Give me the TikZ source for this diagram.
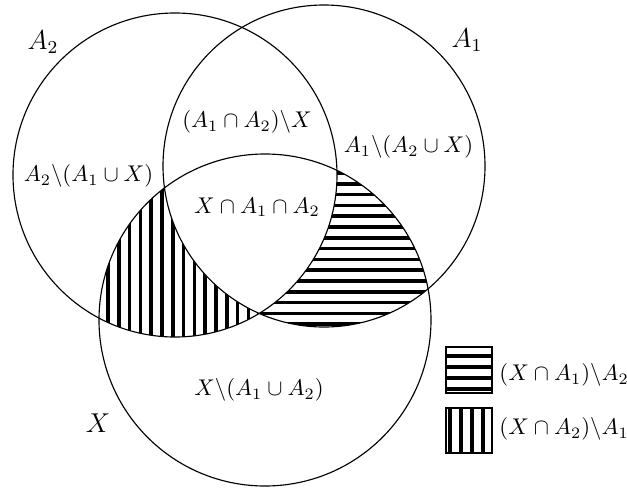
\documentclass[tikz,border=0pt]{standalone}
\begin{document}
\begin{tikzpicture}[x=0.44pt,y=-0.44pt,
  ring/.style={line width=0.5pt},
  hatch/.style={line width=1.6pt},
  lbl/.style={inner sep=0pt},
  keylbl/.style={inner sep=0pt,anchor=west,font=\fontsize{9.6}{12}\selectfont},
  biglbl/.style={inner sep=0pt,font=\large}]
\useasboundingbox (0,0) rectangle (627,488);
\coordinate (cA2) at (175,175);
\coordinate (cA1) at (324,166);
\coordinate (cX) at (265,320);
% (X cap A2) \ A1 : vertical hatching
\begin{scope}
  \clip (cX) circle[radius=166];
  \clip (cA2) circle[radius=162];
  \foreach \k in {-2,...,18} \draw[hatch] (97.2+10.8*\k,150) -- (97.2+10.8*\k,345);
  \fill[white] (cA1) circle[radius=161];
\end{scope}
% (X cap A1) \ A2 : horizontal hatching
\begin{scope}
  \clip (cX) circle[radius=166];
  \clip (cA1) circle[radius=161];
  \foreach \k in {-2,...,17} \draw[hatch] (240,173+10.8*\k) -- (445,173+10.8*\k);
  \fill[white] (cA2) circle[radius=162];
\end{scope}
% circles
\draw[ring] (cA2) circle[radius=162];
\draw[ring] (cA1) circle[radius=161];
\draw[ring] (cX) circle[radius=166];
% labels
\node[biglbl] (lA2) at (43,42) {$A_2$};
\node[biglbl] (lA1) at (467,40) {$A_1$};
\node[biglbl] (lX) at (98,423) {$X$};
\node[lbl] (r12) at (247,122) {$(A_1\cap A_2)\backslash X$};
\node[lbl] (r1) at (408.5,147) {$A_1\backslash(A_2\cup X)$};
\node[lbl] (r2) at (88.5,176) {$A_2\backslash(A_1\cup X)$};
\node[lbl] (r012) at (257,207) {$X\cap A_1\cap A_2$};
\node[lbl] (r0) at (259,390) {$X\backslash(A_1\cup A_2)$};
% legend
\coordinate (k1a) at (446,347);
\coordinate (k1b) at (492,393);
\coordinate (k2a) at (446,408);
\coordinate (k2b) at (492,453);
\begin{scope}
  \clip (k1a) rectangle (k1b);
  \foreach \y in {356,367,378,389} \draw[hatch] (440,\y) -- (500,\y);
\end{scope}
\begin{scope}
  \clip (k2a) rectangle (k2b);
  \foreach \x in {450,461,472,483} \draw[hatch] (\x,400) -- (\x,460);
\end{scope}
\draw[line width=0.5pt] (k1a) rectangle (k1b);
\draw[line width=0.5pt] (k2a) rectangle (k2b);
\node[keylbl] (t1) at (499,375) {$(X\cap A_1)\backslash A_2$};
\node[keylbl] (t2) at (499,429) {$(X\cap A_2)\backslash A_1$};
\end{tikzpicture}
\end{document}
